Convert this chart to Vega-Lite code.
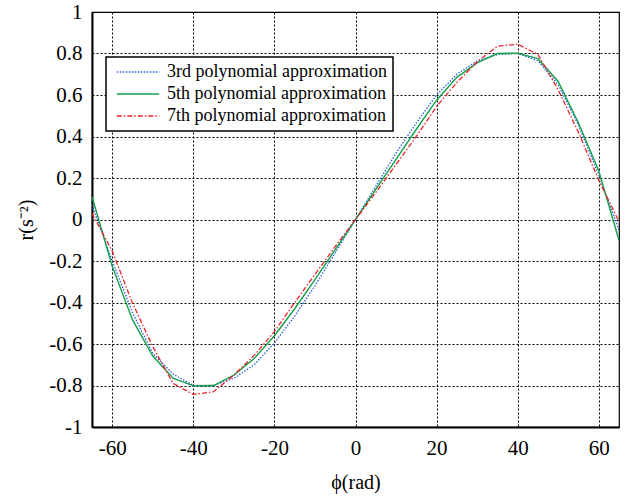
{
  "$schema": "https://vega.github.io/schema/vega-lite/v6.json",
  "autosize": "none",
  "padding": {"left": 92, "top": 12, "right": 10, "bottom": 70},
  "width": 527,
  "height": 415,
  "background": "white",
  "config": {
    "font": "Liberation Serif",
    "view": {"stroke": "black", "strokeWidth": 1.2},
    "axis": {
      "labelFont": "Liberation Serif",
      "titleFont": "Liberation Serif",
      "labelFontSize": 21,
      "titleFontSize": 20,
      "titleFontWeight": "normal",
      "labelColor": "black",
      "titleColor": "black",
      "domainColor": "black",
      "domainWidth": 2,
      "ticks": false,
      "grid": true,
      "gridColor": "black",
      "gridOpacity": 1,
      "gridDash": [2, 2],
      "gridWidth": 1
    },
    "legend": {
      "labelFont": "Liberation Serif",
      "labelFontSize": 18,
      "labelColor": "black",
      "labelLimit": 0
    }
  },
  "data": {
    "values": [
      {"phi": -65, "r": 0.07, "s": "3rd polynomial approximation"},
      {"phi": -60, "r": -0.2, "s": "3rd polynomial approximation"},
      {"phi": -55, "r": -0.45, "s": "3rd polynomial approximation"},
      {"phi": -50, "r": -0.645, "s": "3rd polynomial approximation"},
      {"phi": -45, "r": -0.745, "s": "3rd polynomial approximation"},
      {"phi": -40, "r": -0.8, "s": "3rd polynomial approximation"},
      {"phi": -35, "r": -0.8, "s": "3rd polynomial approximation"},
      {"phi": -30, "r": -0.765, "s": "3rd polynomial approximation"},
      {"phi": -25, "r": -0.7, "s": "3rd polynomial approximation"},
      {"phi": -20, "r": -0.595, "s": "3rd polynomial approximation"},
      {"phi": -15, "r": -0.465, "s": "3rd polynomial approximation"},
      {"phi": -10, "r": -0.32, "s": "3rd polynomial approximation"},
      {"phi": -5, "r": -0.16, "s": "3rd polynomial approximation"},
      {"phi": 0, "r": 0, "s": "3rd polynomial approximation"},
      {"phi": 5, "r": 0.16, "s": "3rd polynomial approximation"},
      {"phi": 10, "r": 0.32, "s": "3rd polynomial approximation"},
      {"phi": 15, "r": 0.465, "s": "3rd polynomial approximation"},
      {"phi": 20, "r": 0.6, "s": "3rd polynomial approximation"},
      {"phi": 25, "r": 0.7, "s": "3rd polynomial approximation"},
      {"phi": 30, "r": 0.765, "s": "3rd polynomial approximation"},
      {"phi": 35, "r": 0.795, "s": "3rd polynomial approximation"},
      {"phi": 40, "r": 0.8, "s": "3rd polynomial approximation"},
      {"phi": 45, "r": 0.765, "s": "3rd polynomial approximation"},
      {"phi": 50, "r": 0.65, "s": "3rd polynomial approximation"},
      {"phi": 55, "r": 0.455, "s": "3rd polynomial approximation"},
      {"phi": 60, "r": 0.215, "s": "3rd polynomial approximation"},
      {"phi": 65, "r": -0.05, "s": "3rd polynomial approximation"},
      {"phi": -65, "r": 0.11, "s": "5th polynomial approximation"},
      {"phi": -60, "r": -0.226, "s": "5th polynomial approximation"},
      {"phi": -55, "r": -0.484, "s": "5th polynomial approximation"},
      {"phi": -50, "r": -0.658, "s": "5th polynomial approximation"},
      {"phi": -45, "r": -0.765, "s": "5th polynomial approximation"},
      {"phi": -40, "r": -0.802, "s": "5th polynomial approximation"},
      {"phi": -35, "r": -0.8, "s": "5th polynomial approximation"},
      {"phi": -30, "r": -0.75, "s": "5th polynomial approximation"},
      {"phi": -25, "r": -0.67, "s": "5th polynomial approximation"},
      {"phi": -20, "r": -0.56, "s": "5th polynomial approximation"},
      {"phi": -15, "r": -0.43, "s": "5th polynomial approximation"},
      {"phi": -10, "r": -0.29, "s": "5th polynomial approximation"},
      {"phi": -5, "r": -0.145, "s": "5th polynomial approximation"},
      {"phi": 0, "r": 0, "s": "5th polynomial approximation"},
      {"phi": 5, "r": 0.145, "s": "5th polynomial approximation"},
      {"phi": 10, "r": 0.29, "s": "5th polynomial approximation"},
      {"phi": 15, "r": 0.435, "s": "5th polynomial approximation"},
      {"phi": 20, "r": 0.575, "s": "5th polynomial approximation"},
      {"phi": 25, "r": 0.685, "s": "5th polynomial approximation"},
      {"phi": 30, "r": 0.755, "s": "5th polynomial approximation"},
      {"phi": 35, "r": 0.8, "s": "5th polynomial approximation"},
      {"phi": 40, "r": 0.802, "s": "5th polynomial approximation"},
      {"phi": 45, "r": 0.775, "s": "5th polynomial approximation"},
      {"phi": 50, "r": 0.665, "s": "5th polynomial approximation"},
      {"phi": 55, "r": 0.465, "s": "5th polynomial approximation"},
      {"phi": 60, "r": 0.235, "s": "5th polynomial approximation"},
      {"phi": 65, "r": -0.1, "s": "5th polynomial approximation"},
      {"phi": -65, "r": 0.03, "s": "7th polynomial approximation"},
      {"phi": -60, "r": -0.153, "s": "7th polynomial approximation"},
      {"phi": -55, "r": -0.403, "s": "7th polynomial approximation"},
      {"phi": -50, "r": -0.613, "s": "7th polynomial approximation"},
      {"phi": -45, "r": -0.79, "s": "7th polynomial approximation"},
      {"phi": -40, "r": -0.843, "s": "7th polynomial approximation"},
      {"phi": -35, "r": -0.83, "s": "7th polynomial approximation"},
      {"phi": -30, "r": -0.75, "s": "7th polynomial approximation"},
      {"phi": -25, "r": -0.655, "s": "7th polynomial approximation"},
      {"phi": -20, "r": -0.54, "s": "7th polynomial approximation"},
      {"phi": -15, "r": -0.4, "s": "7th polynomial approximation"},
      {"phi": -10, "r": -0.265, "s": "7th polynomial approximation"},
      {"phi": -5, "r": -0.13, "s": "7th polynomial approximation"},
      {"phi": 0, "r": 0, "s": "7th polynomial approximation"},
      {"phi": 5, "r": 0.13, "s": "7th polynomial approximation"},
      {"phi": 10, "r": 0.265, "s": "7th polynomial approximation"},
      {"phi": 15, "r": 0.4, "s": "7th polynomial approximation"},
      {"phi": 20, "r": 0.545, "s": "7th polynomial approximation"},
      {"phi": 25, "r": 0.66, "s": "7th polynomial approximation"},
      {"phi": 30, "r": 0.76, "s": "7th polynomial approximation"},
      {"phi": 35, "r": 0.835, "s": "7th polynomial approximation"},
      {"phi": 40, "r": 0.845, "s": "7th polynomial approximation"},
      {"phi": 45, "r": 0.795, "s": "7th polynomial approximation"},
      {"phi": 50, "r": 0.625, "s": "7th polynomial approximation"},
      {"phi": 55, "r": 0.42, "s": "7th polynomial approximation"},
      {"phi": 60, "r": 0.19, "s": "7th polynomial approximation"},
      {"phi": 65, "r": -0.01, "s": "7th polynomial approximation"}
    ]
  },
  "encoding": {
    "x": {
      "field": "phi",
      "type": "quantitative",
      "scale": {"domain": [-65, 65], "nice": false, "zero": false},
      "axis": {
        "values": [-60, -40, -20, 0, 20, 40, 60],
        "labelExpr": "'' + datum.value",
        "labelFont": "Liberation Serif",
        "labelPadding": 10,
        "title": "ϕ(rad)",
        "titlePadding": 14
      }
    },
    "y": {
      "field": "r",
      "type": "quantitative",
      "scale": {"domain": [-1, 1], "nice": false},
      "axis": {
        "values": [-1, -0.8, -0.6, -0.4, -0.2, 0, 0.2, 0.4, 0.6, 0.8, 1],
        "labelExpr": "'' + round(datum.value * 10) / 10",
        "labelFont": "Liberation Serif",
        "labelPadding": 10,
        "title": "r(s⁻²)",
        "titlePadding": 12
      }
    },
    "color": {
      "field": "s",
      "type": "nominal",
      "scale": {
        "domain": ["3rd polynomial approximation", "5th polynomial approximation", "7th polynomial approximation"],
        "range": ["#2a5bd7", "#12a04a", "#f0202a"]
      },
      "legend": {
        "title": null,
        "orient": "none",
        "legendX": 14,
        "legendY": 45,
        "symbolType": "M-3,0H3",
        "symbolSize": 200,
        "symbolStrokeWidth": 1.5,
        "symbolOffset": 17,
        "labelOffset": 20,
        "rowPadding": 4,
        "padding": 6,
        "strokeColor": "black",
        "fillColor": "white",
        "encode": {
          "legend": {
            "update": {
              "strokeWidth": {"value": 1.5}
            }
          },
          "symbols": {
            "update": {
              "strokeDash": {"signal": "datum.value == '3rd polynomial approximation' ? [1.5, 1.5] : datum.value == '7th polynomial approximation' ? [5, 2, 1.5, 2] : [1, 0]"}
            }
          }
        }
      }
    }
  },
  "layer": [
    {
      "transform": [{"filter": "datum.s == '3rd polynomial approximation'"}],
      "mark": {"type": "line", "strokeWidth": 1.3, "strokeDash": [1.5, 1.5], "clip": true}
    },
    {
      "transform": [{"filter": "datum.s == '5th polynomial approximation'"}],
      "mark": {"type": "line", "strokeWidth": 1.4, "clip": true}
    },
    {
      "transform": [{"filter": "datum.s == '7th polynomial approximation'"}],
      "mark": {"type": "line", "strokeWidth": 1.3, "strokeDash": [5, 2, 1.5, 2], "clip": true}
    }
  ]
}
